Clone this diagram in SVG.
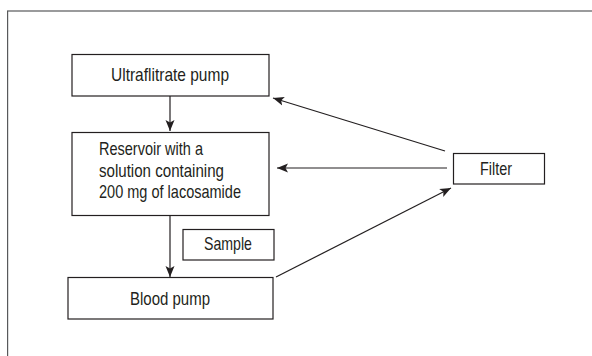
<svg xmlns="http://www.w3.org/2000/svg" width="592" height="356" viewBox="0 0 592 356">
<style>
.box{fill:#fff;stroke:#231f20;stroke-width:1.2}
.frame{fill:none;stroke:#58595b;stroke-width:1.2}
.t{font-family:"Liberation Sans",Arial,sans-serif;font-size:18.5px;fill:#231f20}
.c{text-anchor:middle}
.edge{stroke:#231f20;stroke-width:1.2;fill:none}
</style>
<defs>
<marker id="ah" markerUnits="userSpaceOnUse" markerWidth="12" markerHeight="10" viewBox="0 0 12 10" refX="11" refY="5" orient="auto">
<path d="M0,0.5 L11,5 L0,9.5 L2.5,5 Z" fill="#231f20"/>
</marker>
</defs>
<rect class="frame" x="7.6" y="11" width="620" height="400"/>
<g id="ultrafiltrate-pump">
<rect class="box" x="72" y="54.5" width="197" height="41.5"/>
<text class="t c" x="170" y="81" textLength="118" lengthAdjust="spacingAndGlyphs">Ultraflitrate pump</text>
</g>
<g id="reservoir">
<rect class="box" x="72" y="132.5" width="197" height="83"/>
<text class="t" x="99" y="155" textLength="104" lengthAdjust="spacingAndGlyphs">Reservoir with a</text>
<text class="t" x="99" y="176.5" textLength="125" lengthAdjust="spacingAndGlyphs">solution containing</text>
<text class="t" x="99" y="198" textLength="142" lengthAdjust="spacingAndGlyphs">200 mg of lacosamide</text>
</g>
<g id="sample">
<rect class="box" x="183" y="229.5" width="91" height="30.5"/>
<text class="t c" x="228" y="250" textLength="48" lengthAdjust="spacingAndGlyphs">Sample</text>
</g>
<g id="blood-pump">
<rect class="box" x="68" y="277.5" width="205" height="41.5"/>
<text class="t c" x="170" y="305" textLength="80" lengthAdjust="spacingAndGlyphs">Blood pump</text>
</g>
<g id="filter">
<rect class="box" x="453.5" y="153.5" width="91" height="30.5"/>
<text class="t c" x="496" y="175" textLength="32" lengthAdjust="spacingAndGlyphs">Filter</text>
</g>
<g id="connectors">
<line class="edge" x1="170" y1="96" x2="170" y2="131" marker-end="url(#ah)"/>
<line class="edge" x1="170" y1="215.5" x2="170" y2="277" marker-end="url(#ah)"/>
<line class="edge" x1="445" y1="151" x2="273" y2="98" marker-end="url(#ah)"/>
<line class="edge" x1="447" y1="168" x2="277" y2="168" marker-end="url(#ah)"/>
<line class="edge" x1="276" y1="277" x2="451" y2="188" marker-end="url(#ah)"/>
</g>
</svg>
